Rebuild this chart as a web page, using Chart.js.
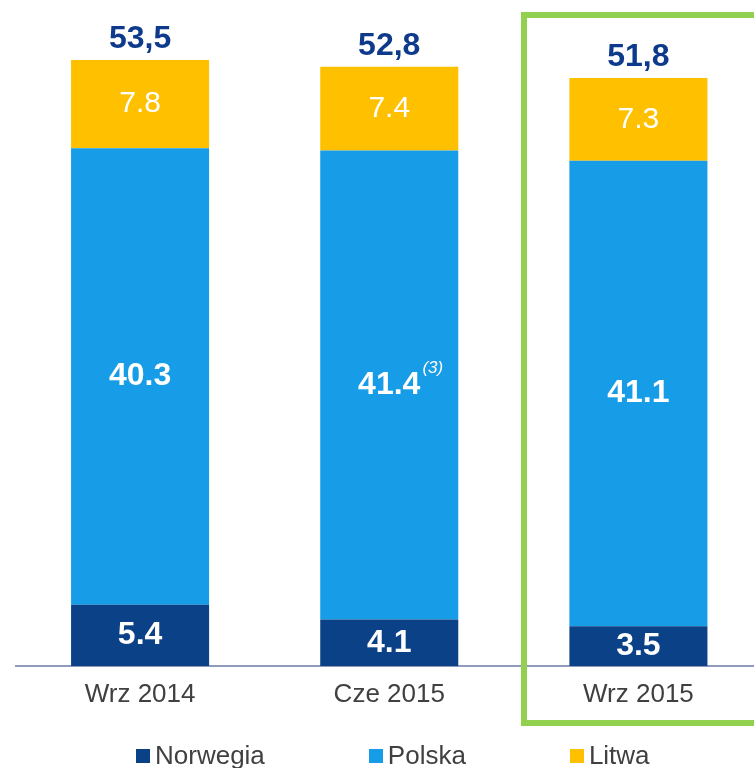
<!DOCTYPE html>
<html>
<head>
<meta charset="utf-8">
<script src="https://cdn.jsdelivr.net/npm/chart.js@4/dist/chart.umd.min.js"></script>
<style>
  html, body { margin: 0; padding: 0; background: #fff; }
  #wrap { position: relative; width: 754px; height: 768px; overflow: hidden; }
  #chart { position: absolute; left: 0; top: 0; }
  #frame {
    position: absolute; left: 521px; top: 12px; width: 300px; height: 714px;
    box-sizing: border-box; border: 6px solid #92d050;
  }
  #legend {
    position: absolute; left: 136px; top: 740px; display: flex; align-items: center;
    font-family: "Liberation Sans", Arial, sans-serif; font-size: 26px; color: #404040;
  }
  #legend .item { display: flex; align-items: center; margin-right: 104px; }
  #legend .box { width: 14px; height: 14px; margin-right: 5px; }
</style>
</head>
<body>
<div id="wrap">
  <canvas id="chart" width="763" height="768"></canvas>
  <div id="frame"></div>
  <div id="legend"></div>
</div>
<script>
const categories = ["Wrz 2014", "Cze 2015", "Wrz 2015"];
const norwegia = [5.4, 4.1, 3.5];
const polska = [40.3, 41.4, 41.1];
const litwa = [7.8, 7.4, 7.3];
const totals = [53.5, 52.8, 51.8];
const polskaNotes = ["", "(3)", ""];

const FONT = '"Liberation Sans", Arial, sans-serif';

// labels inside segments and totals on top
const valueLabels = {
  id: "valueLabels",
  afterDatasetsDraw(chart) {
    const ctx = chart.ctx;
    ctx.save();
    ctx.textAlign = "center";
    ctx.textBaseline = "middle";
    chart.data.datasets.forEach((ds, di) => {
      const meta = chart.getDatasetMeta(di);
      meta.data.forEach((bar, i) => {
        const y = (bar.y + bar.base) / 2;
        const text = ds.data[i].toFixed(1);
        ctx.fillStyle = "#ffffff";
        ctx.font = ds.labelBold ? "bold 32px " + FONT : "30px " + FONT;
        ctx.fillText(text, bar.x, y);
        if (ds.notes && ds.notes[i]) {
          const w = ctx.measureText(text).width;
          ctx.font = "italic 17px " + FONT;
          ctx.textAlign = "left";
          ctx.fillText(ds.notes[i], bar.x + w / 2 + 2, y - 17);
          ctx.textAlign = "center";
        }
      });
    });
    const top = chart.getDatasetMeta(chart.data.datasets.length - 1);
    ctx.fillStyle = "#0e3a8c";
    ctx.font = "bold 32px " + FONT;
    top.data.forEach((bar, i) => {
      ctx.fillText(totals[i].toFixed(1).replace(".", ","), bar.x, bar.y - 21);
    });
    ctx.restore();
  },
};

const chart = new Chart(document.getElementById("chart"), {
  type: "bar",
  data: {
    labels: categories,
    datasets: [
      { label: "Norwegia", data: norwegia, backgroundColor: "#0b4187", labelBold: true },
      { label: "Polska", data: polska, backgroundColor: "#179ce8", labelBold: true, notes: polskaNotes },
      { label: "Litwa", data: litwa, backgroundColor: "#ffc000", labelBold: false },
    ],
  },
  options: {
    responsive: false,
    animation: false,
    layout: { padding: { left: 15.5, top: 9, right: 0, bottom: 0 } },
    datasets: { bar: { categoryPercentage: 1, barPercentage: 0.554 } },
    plugins: { legend: { display: false }, tooltip: { enabled: false } },
    scales: {
      x: {
        stacked: true,
        grid: { display: false, drawTicks: false },
        border: { display: true, color: "#8f9bbd", width: 2 },
        ticks: { color: "#404040", font: { family: FONT, size: 26 }, padding: 13 },
        afterFit(scale) { scale.height = 102; },
      },
      y: { stacked: true, display: false, min: 0, max: 58 },
    },
  },
  plugins: [valueLabels],
});

// HTML legend from the chart datasets
const legend = document.getElementById("legend");
chart.data.datasets.forEach((ds) => {
  const item = document.createElement("div");
  item.className = "item";
  item.innerHTML = '<span class="box" style="background:' + ds.backgroundColor + '"></span><span>' + ds.label + "</span>";
  legend.appendChild(item);
});
</script>
</body>
</html>
